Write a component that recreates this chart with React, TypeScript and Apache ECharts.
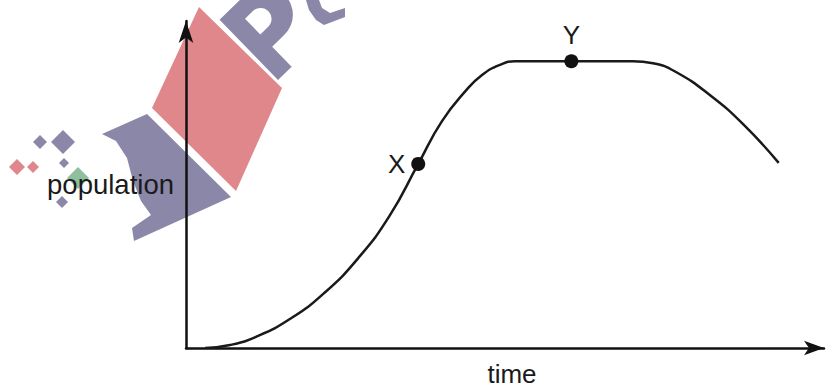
import React, { useEffect, useRef } from "react";
import * as echarts from "echarts";

// Curve (time 0..100, population 0..100)
const timeValues = [3.0, 6.9, 11.2, 16.4, 21.6, 27.0, 31.9, 36.4, 40.1, 44.0, 46.4, 49.1, 51.6, 55.8, 60.4, 65.3, 70.0, 73.2, 76.8, 82.2, 87.4, 92.9];
const populationValues = [0, 0.9, 3.6, 9.0, 16.7, 27.5, 40.4, 56.3, 69.3, 79.0, 83.5, 86.5, 87.7, 87.7, 87.7, 87.7, 87.7, 87.1, 84.4, 77.2, 68.3, 56.6];

// Marked points
const markedLabels = ["X", "Y"];
const markedTime = [36.4, 60.4];
const markedPopulation = [56.3, 87.7];

const xAxisName = "time";
const yAxisName = "population";

const FONT = "'Liberation Sans', Arial, Helvetica, sans-serif";
const INK = "#1a1a1a";
const WM_RED = "#e0878b";
const WM_PURPLE = "#8a87a9";
const WM_GREEN = "#8fbf9c";

let registered = false;
function registerShapes() {
  if (registered) return;
  registered = true;
  const pPath =
    "M0 0 L0 -84 L36 -84 A28 28 0 0 1 36 -28 L19 -28 L19 0 Z M19 -67 L19 -45 L30 -45 A11 11 0 0 0 30 -67 Z";
  echarts.graphic.registerShape("wmP", echarts.graphic.extendPath(pPath, {}) as any);
}

function diamond(cx: number, cy: number, r: number, fill: string) {
  return {
    type: "polygon",
    z: 0,
    silent: true,
    shape: { points: [[cx, cy - r], [cx + r, cy], [cx, cy + r], [cx - r, cy]] },
    style: { fill },
  };
}

export default function App() {
  const ref = useRef<HTMLDivElement>(null);
  useEffect(() => {
    if (!ref.current) return;
    registerShapes();
    const chart = echarts.init(ref.current, undefined, { renderer: "svg" });
    const lineData = timeValues.map((t, i) => [t, populationValues[i]]);
    const pointData = markedLabels.map((name, i) => ({
      name,
      value: [markedTime[i], markedPopulation[i]],
      label: {
        show: true,
        formatter: name,
        position: i === 0 ? "left" : "top",
        distance: 6,
        fontSize: 26,
        fontFamily: FONT,
        color: INK,
        opacity: 1,
      },
    }));

    chart.setOption({
      animation: false,
      backgroundColor: "#ffffff",
      grid: { left: 186, right: 4, top: 21, bottom: 37, containLabel: false },
      xAxis: {
        type: "value",
        min: 0,
        max: 100,
        z: 5,
        name: xAxisName,
        nameLocation: "middle",
        nameGap: 13,
        nameTextStyle: {
          fontSize: 26,
          fontFamily: FONT,
          color: INK,
          verticalAlign: "top",
          padding: [0, 0, 0, 14],
        },
        axisLine: {
          show: true,
          symbol: ["none", "arrow"],
          symbolSize: [11, 20],
          lineStyle: { color: "#111", width: 2.5 },
        },
        axisTick: { show: false },
        axisLabel: { show: false },
        splitLine: { show: false },
      },
      yAxis: {
        type: "value",
        min: 0,
        max: 100,
        z: 5,
        name: yAxisName,
        nameLocation: "middle",
        nameRotate: 0,
        nameGap: 12,
        nameTextStyle: { fontSize: 27.5, fontFamily: FONT, color: INK },
        axisLine: {
          show: true,
          symbol: ["none", "arrow"],
          symbolSize: [11, 22],
          lineStyle: { color: "#111", width: 2.5 },
        },
        axisTick: { show: false },
        axisLabel: { show: false },
        splitLine: { show: false },
      },
      graphic: [
        {
          type: "polygon",
          z: 0,
          silent: true,
          shape: { points: [[199, 7], [282, 88], [236, 191], [152, 108]] },
          style: { fill: WM_RED },
        },
        {
          type: "polygon",
          z: 0,
          silent: true,
          shape: {
            points: [
              [147, 114], [102, 134], [116, 141], [127, 158], [133, 181], [141, 201],
              [151, 215], [132, 228], [134, 241], [231, 197],
            ],
          },
          style: { fill: WM_PURPLE },
        },
        {
          type: "wmP",
          z: 0,
          silent: true,
          x: 278,
          y: 80,
          rotation: 0.77,
          style: { fill: WM_PURPLE },
        },
        {
          type: "polygon",
          z: 0,
          silent: true,
          shape: {
            points: [[306, 0], [309, 10], [316, 20], [324, 25], [345, 17], [345, 8], [330, 13], [322, 8], [319, 0]],
          },
          style: { fill: WM_PURPLE },
        },
        diamond(40, 142, 7, WM_PURPLE),
        diamond(63, 142, 12, WM_PURPLE),
        diamond(64, 163, 5, WM_PURPLE),
        diamond(17, 167, 8, WM_RED),
        diamond(33, 167, 6, WM_RED),
        diamond(78, 178, 11, WM_GREEN),
        diamond(62, 202, 6, WM_PURPLE),
      ],
      series: [
        {
          type: "line",
          z: 6,
          data: lineData,
          smooth: 0.5,
          showSymbol: false,
          symbol: "none",
          lineStyle: { color: INK, width: 2.5 },
          silent: true,
        },
        {
          type: "scatter",
          z: 7,
          data: pointData,
          symbol: "circle",
          symbolSize: 14,
          itemStyle: { color: "#111", opacity: 1 },
          silent: true,
        },
      ],
    });
    return () => chart.dispose();
  }, []);

  return (
    <div
      ref={ref}
      style={{ position: "absolute", left: 0, top: 0, width: 828, height: 392, background: "#fff" }}
    />
  );
}
